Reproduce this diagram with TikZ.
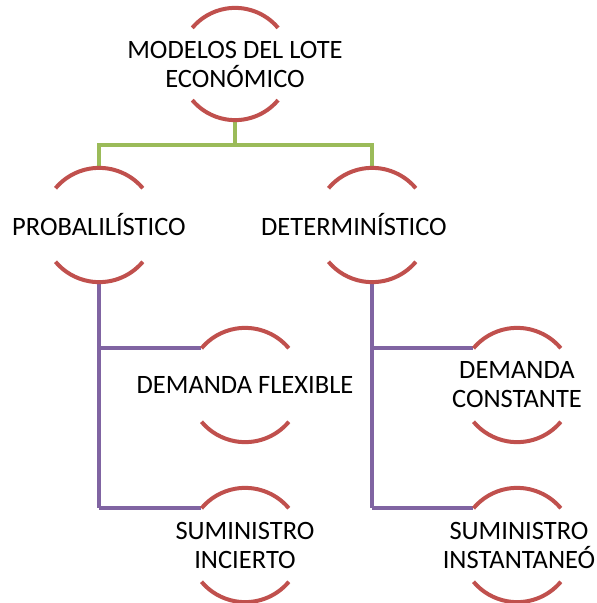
\documentclass[tikz,border=0pt]{standalone}
\usepackage{fontspec}
\setmainfont{Carlito}
\definecolor{arcred}{HTML}{C0504D}
\definecolor{lgreen}{HTML}{9BBB59}
\definecolor{lpurple}{HTML}{8064A2}
\tikzset{
  circnode/.style={circle, minimum size=114pt, inner sep=0pt, draw=none},
  txt/.style={align=center, font=\fontsize{26.5}{29}\selectfont, inner sep=0pt},
  arcline/.style={draw=arcred, line width=4pt},
  greenline/.style={draw=lgreen, line width=4pt},
  purpleline/.style={draw=lpurple, line width=4pt},
}
\newcommand{\circarcs}[1]{%
  \draw[arcline] (#1.40) arc (40:140:57pt);
  \draw[arcline] (#1.-40) arc (-40:-140:57pt);}
\begin{document}
\begin{tikzpicture}[x=1pt,y=-1pt]
\useasboundingbox (0,0) rectangle (597,603);
% nodes
\node[circnode, minimum size=112pt] (top) at (235,64) {};
\node[circnode] (prob) at (99,225) {};
\node[circnode] (det) at (372,225) {};
\node[circnode] (dflex) at (245,385) {};
\node[circnode] (sinc) at (245,545) {};
\node[circnode] (dcons) at (517,385) {};
\node[circnode] (sinst) at (517,545) {};
% texts
\node[txt] (ttop) at (top) {MODELOS DEL LOTE\\ECONÓMICO};
\node[txt] (tprob) at (prob) {PROBALILÍSTICO};
\node[txt] (tdet) at ([xshift=-18pt]det.center) {DETERMINÍSTICO};
\node[txt] (tdflex) at (dflex) {DEMANDA FLEXIBLE};
\node[txt] (tsinc) at (sinc) {SUMINISTRO\\INCIERTO};
\node[txt] (tdcons) at (dcons) {DEMANDA\\CONSTANTE};
\node[txt] (tsinst) at ([xshift=2pt]sinst.center) {SUMINISTRO\\INSTANTANEÓ};
% connectors
\coordinate (gbar) at (235,145);
\draw[greenline] (top.south) -- (gbar);
\draw[greenline, line join=miter] (prob.north) -- (prob.north |- gbar) -- (det.north |- gbar) -- (det.north);
\draw[purpleline] (prob.south) -- (prob.south |- sinc.140);
\draw[purpleline] (prob.south |- dflex.140) -- (dflex.140);
\draw[purpleline] (prob.south |- sinc.140) -- (sinc.140);
\draw[purpleline] (det.south) -- (det.south |- sinst.140);
\draw[purpleline] (det.south |- dcons.140) -- (dcons.140);
\draw[purpleline] (det.south |- sinst.140) -- (sinst.140);
% arcs
\draw[arcline] (top.40) arc (40:140:56pt);
\draw[arcline] (top.-40) arc (-40:-140:56pt);
\circarcs{prob}
\circarcs{det}
\circarcs{dflex}
\circarcs{sinc}
\circarcs{dcons}
\circarcs{sinst}
\end{tikzpicture}
\end{document}
